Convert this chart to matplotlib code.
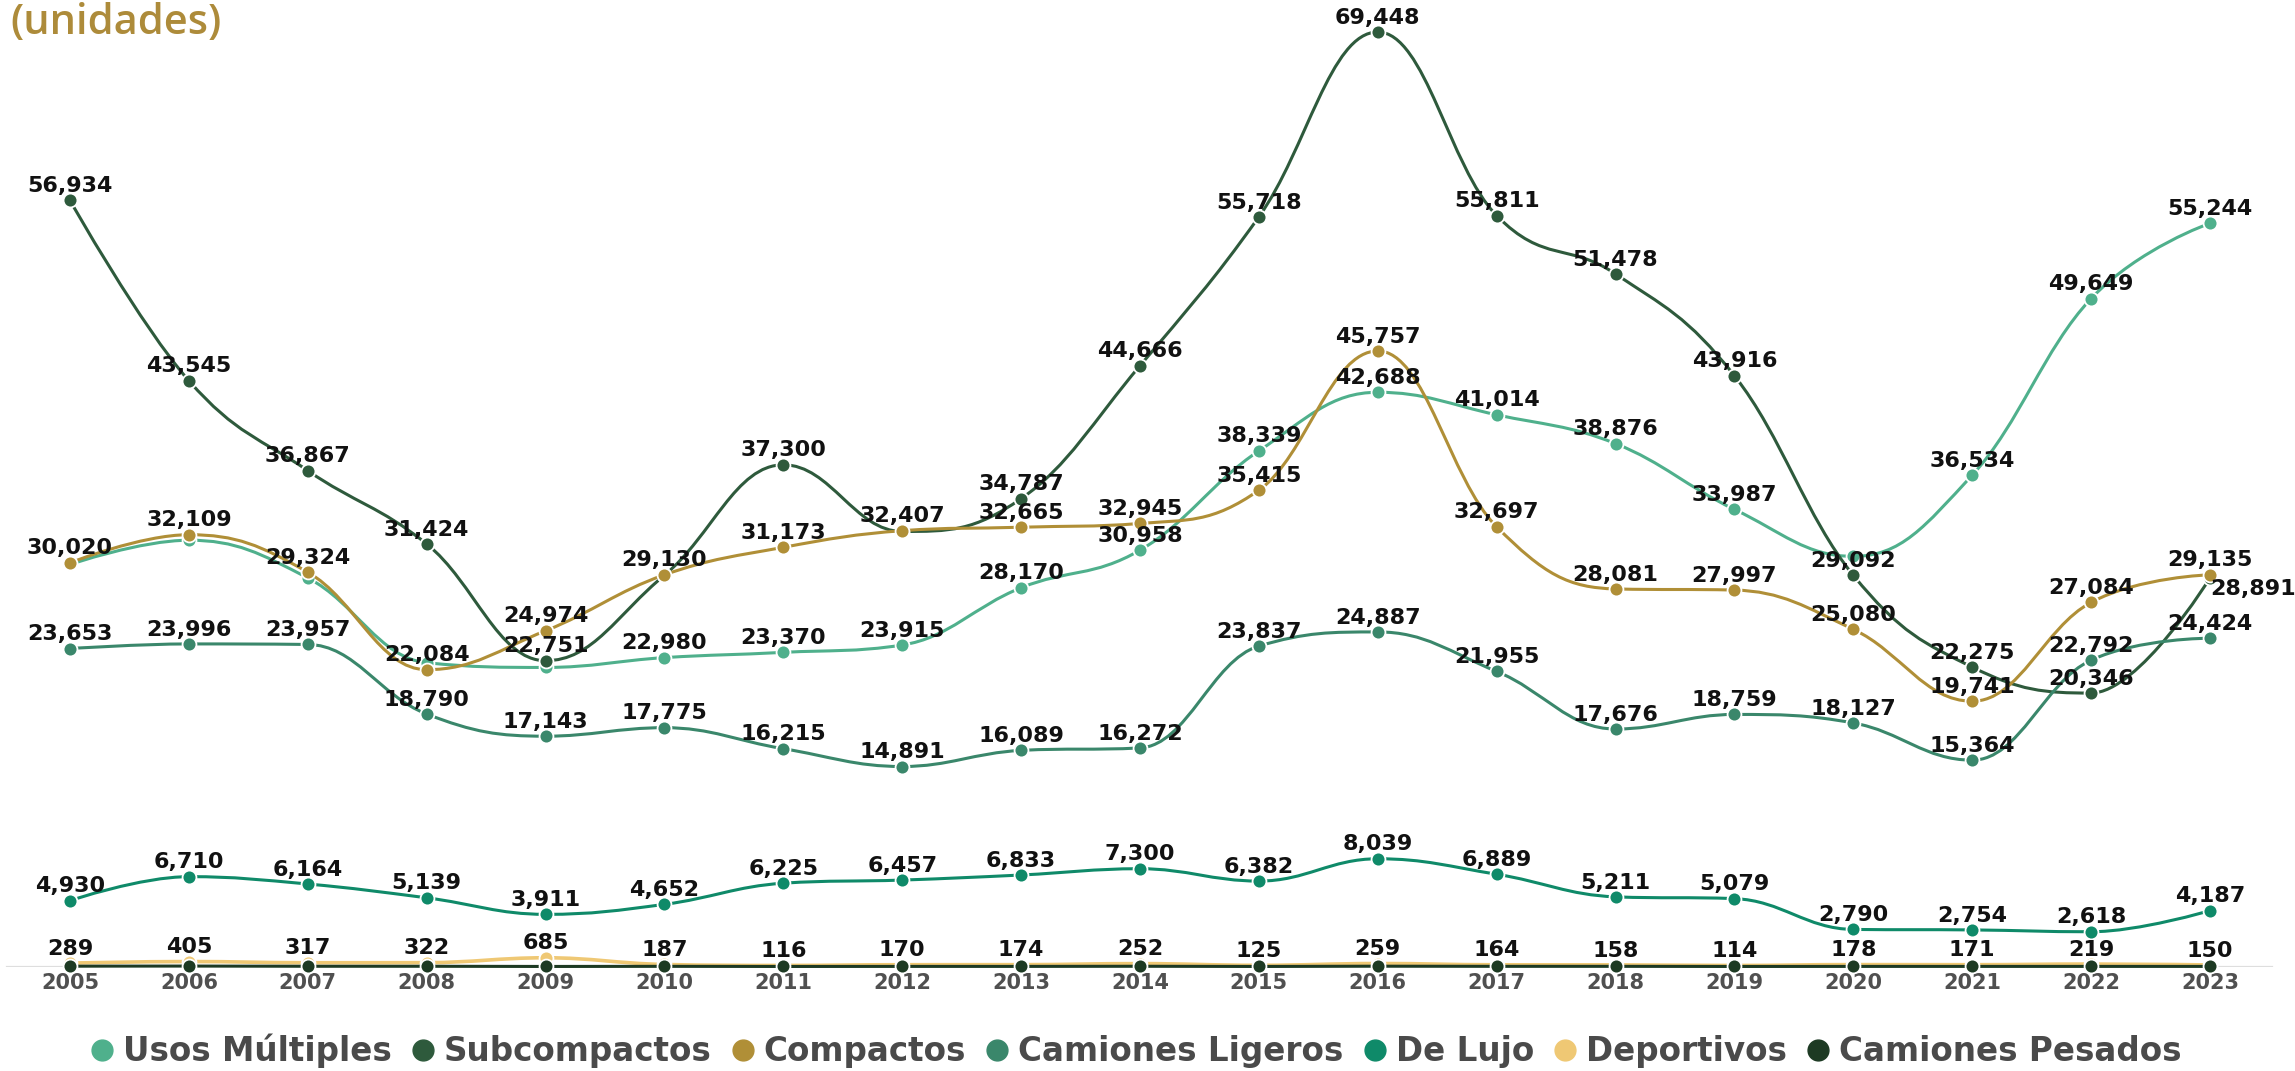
import matplotlib
matplotlib.use('Agg')
import matplotlib.pyplot as plt
from matplotlib.path import Path
from matplotlib.patches import PathPatch
from matplotlib.lines import Line2D
from matplotlib.font_manager import FontProperties

# ---------------- data ----------------
years = list(range(2005, 2024))
year_labels = [str(y) for y in years]

usos_multiples = [29900, 31700, 28900, 22600, 22250, 22980, 23370, 23915, 28170, 30958,
                  38339, 42688, 41014, 38876, 33987, 30500, 36534, 49649, 55244]
subcompactos = [56934, 43545, 36867, 31424, 22751, 29100, 37300, 32350, 34787, 44666,
                55718, 69448, 55811, 51478, 43916, 29092, 22275, 20346, 28891]
compactos = [30020, 32109, 29324, 22084, 24974, 29130, 31173, 32407, 32665, 32945,
             35415, 45757, 32697, 28081, 27997, 25080, 19741, 27084, 29135]
camiones_ligeros = [23653, 23996, 23957, 18790, 17143, 17775, 16215, 14891, 16089, 16272,
                    23837, 24887, 21955, 17676, 18759, 18127, 15364, 22792, 24424]
de_lujo = [4930, 6710, 6164, 5139, 3911, 4652, 6225, 6457, 6833, 7300,
           6382, 8039, 6889, 5211, 5079, 2790, 2754, 2618, 4187]
deportivos = [289, 405, 317, 322, 685, 187, 116, 170, 174, 252,
              125, 259, 164, 158, 114, 178, 171, 219, 150]
camiones_pesados = [60, 70, 55, 55, 40, 50, 40, 45, 45, 55,
                    40, 60, 50, 50, 40, 45, 45, 45, 45]

series_names = ["Usos Múltiples", "Subcompactos", "Compactos", "Camiones Ligeros",
                "De Lujo", "Deportivos", "Camiones Pesados"]
series_values = [usos_multiples, subcompactos, compactos, camiones_ligeros,
                 de_lujo, deportivos, camiones_pesados]
series_colors = ["#4fb08c", "#2e5a3c", "#b08f37", "#3a876b", "#0f8a69", "#efc874", "#1d3a23"]

# which labels are hidden behind others in the reference (year indices)
hidden_labels = {
    "Usos Múltiples": {0, 1, 2, 3, 4, 15},
    "Subcompactos": {5, 7, 18},
    "Camiones Pesados": set(range(19)),
}

# ---------------- figure ----------------
W, H = 2295, 1071
fig = plt.figure(figsize=(W / 100, H / 100), dpi=100)
fig.patch.set_facecolor("white")

px_left, px_step = 70, (2210 - 70) / 18
x0 = 2005 - px_left / px_step
x1 = x0 + W / px_step
y_zero_px, y_top_px = 967, 32
ax = fig.add_axes([0, (H - y_zero_px) / H, 1, (y_zero_px - y_top_px) / H])
ax.set_xlim(x0, x1)
ax.set_ylim(0, 69448)
for s in ax.spines.values():
    s.set_visible(False)
ax.set_yticks([])
ax.set_xticks(years)
ax.set_xticklabels(year_labels, fontsize=15, fontweight="bold", color="#505050",
                   family="DejaVu Sans")
ax.tick_params(axis="x", length=0, pad=4)
ax.set_facecolor("none")

ax.axhline(0, xmin=0.003, xmax=0.99, color="#dedede", lw=1.6, zorder=0)


def spline_path(xs, ys):
    n = len(xs)
    sm = 1.5
    den = sm + 1
    lc = [None] * n
    rc = [None] * n
    for i in range(1, n - 1):
        x, y = xs[i], ys[i]
        lx, ly = xs[i - 1], ys[i - 1]
        nx, ny = xs[i + 1], ys[i + 1]
        lcx = (sm * x + lx) / den
        lcy = (sm * y + ly) / den
        rcx = (sm * x + nx) / den
        rcy = (sm * y + ny) / den
        corr = (rcy - lcy) * (rcx - x) / (rcx - lcx) + y - rcy
        lcy += corr
        rcy += corr
        if lcy > ly and lcy > y:
            lcy = max(ly, y)
            rcy = 2 * y - lcy
        elif lcy < ly and lcy < y:
            lcy = min(ly, y)
            rcy = 2 * y - lcy
        if rcy > ny and rcy > y:
            rcy = max(ny, y)
            lcy = 2 * y - rcy
        elif rcy < ny and rcy < y:
            rcy = min(ny, y)
            lcy = 2 * y - rcy
        lc[i] = (lcx, lcy)
        rc[i] = (rcx, rcy)
    verts = [(xs[0], ys[0])]
    codes = [Path.MOVETO]
    for i in range(1, n):
        c1 = rc[i - 1] if rc[i - 1] is not None else (xs[i - 1], ys[i - 1])
        c2 = lc[i] if lc[i] is not None else (xs[i], ys[i])
        verts += [c1, c2, (xs[i], ys[i])]
        codes += [Path.CURVE4] * 3
    return Path(verts, codes)


label_font = dict(fontsize=16, fontweight="bold", color="#111111", family="DejaVu Sans")

for k, (name, vals, col) in enumerate(zip(series_names, series_values, series_colors)):
    z = 2 + k
    lw = 2.6 if name == "Deportivos" else 2.2
    patch = PathPatch(spline_path(years, vals), facecolor="none", edgecolor=col,
                      lw=lw, zorder=z, clip_on=False, capstyle="round", joinstyle="round")
    ax.add_patch(patch)
    ax.plot(years, vals, linestyle="none", marker="o", markersize=10,
            markerfacecolor=col, markeredgecolor="white", markeredgewidth=1.3,
            zorder=z + 0.5, clip_on=False)
    hid = hidden_labels.get(name, set())
    for i, (yr, v) in enumerate(zip(years, vals)):
        if i in hid:
            continue
        ax.annotate(f"{v:,}", (yr, v), xytext=(0, 6), textcoords="offset points",
                    ha="center", va="baseline", zorder=20, **label_font)

# special label: Subcompactos 2023 placed to the right
ax.annotate(f"{subcompactos[-1]:,}", (years[-1], subcompactos[-1]), xytext=(0, -8),
            textcoords="offset points", ha="left", va="center", zorder=20, **label_font)

# title fragment
fig.text(10 / W, 1 - 2 / H, "(unidades)", color="#ad8b3a", fontsize=30,
         va="top", ha="left", family=["Open Sans", "DejaVu Sans"], fontweight="semibold")

# legend
handles = [Line2D([0], [0], marker="o", linestyle="none", markersize=15,
                  markerfacecolor=c, markeredgecolor=c) for c in series_colors]
leg = fig.legend(handles, series_names, loc="center", bbox_to_anchor=(0.495, 20 / H),
                 ncol=7, frameon=False, handlelength=0.7, handletextpad=0.3,
                 columnspacing=0.6,
                 prop=FontProperties(family="DejaVu Sans", weight="bold", size=23.5))
for t in leg.get_texts():
    t.set_color("#4a4a4a")

fig.savefig("out.png", dpi=100, facecolor="white")
